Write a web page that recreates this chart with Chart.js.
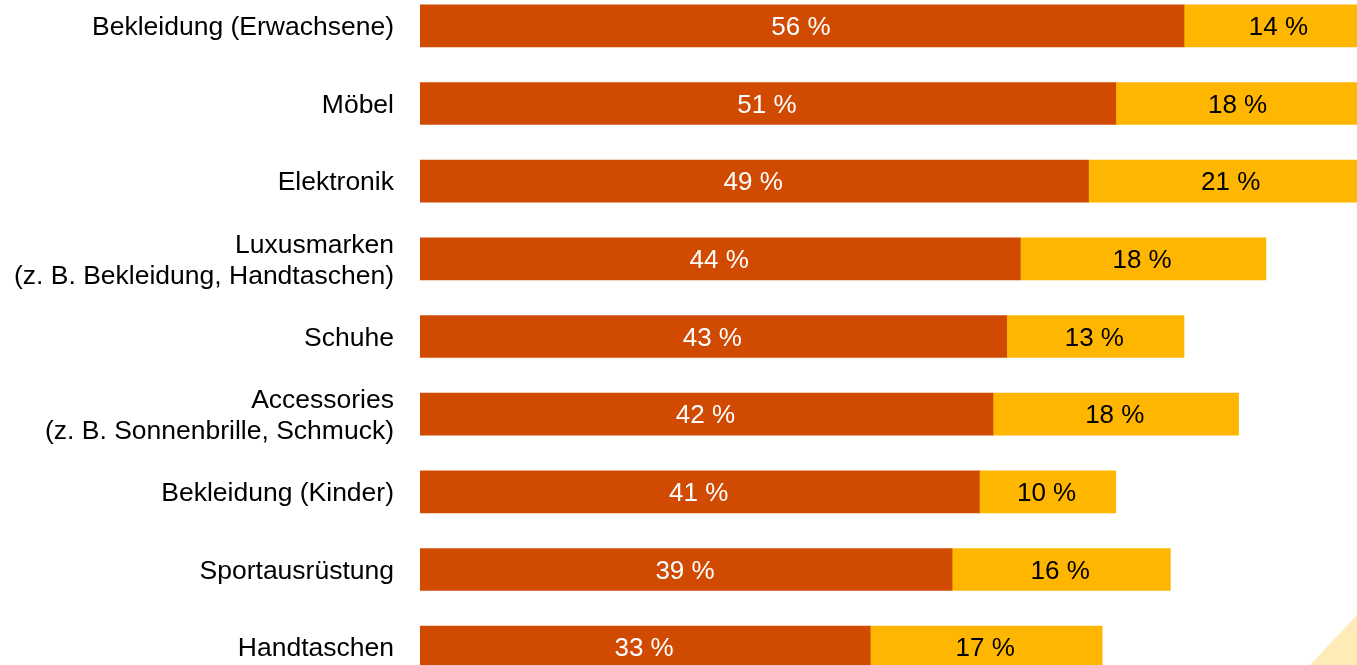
<!DOCTYPE html>
<html lang="de">
<head>
    <meta charset="UTF-8">
    <title>Produktkategorien</title>
    <script src="https://cdn.jsdelivr.net/npm/chart.js"></script>
    <style>
        html, body {
            margin: 0;
            padding: 0;
            width: 1357px;
            height: 665px;
            overflow: hidden;
            background-color: #ffffff;
        }
        #wrap {
            position: absolute;
            left: 0;
            top: -13px;
            width: 1380px;
            height: 699px;
        }
    </style>
</head>
<body>
    <div id="wrap"><canvas id="chart"></canvas></div>

    <script>
        const kategorien = [
            'Bekleidung (Erwachsene)',
            'Möbel',
            'Elektronik',
            ['Luxusmarken', '(z. B. Bekleidung, Handtaschen)'],
            'Schuhe',
            ['Accessories', '(z. B. Sonnenbrille, Schmuck)'],
            'Bekleidung (Kinder)',
            'Sportausrüstung',
            'Handtaschen'
        ];
        const werteA = [56, 51, 49, 44, 43, 42, 41, 39, 33];
        const werteB = [14, 18, 21, 18, 13, 18, 10, 16, 17];

        const schrift = '"Liberation Sans", Arial, sans-serif';

        // Werte als Text in die Balken schreiben
        const balkenText = {
            id: 'balkenText',
            afterDatasetsDraw(chart) {
                const ctx = chart.ctx;
                ctx.save();
                ctx.font = '26px ' + schrift;
                ctx.textAlign = 'center';
                ctx.textBaseline = 'middle';
                chart.data.datasets.forEach((ds, i) => {
                    chart.getDatasetMeta(i).data.forEach((bar, j) => {
                        const mitte = (bar.x + bar.base) / 2;
                        ctx.fillStyle = ds.textColor;
                        ctx.fillText(ds.data[j] + ' %', mitte - 1, bar.y + 2);
                    });
                });
                ctx.restore();
            }
        };

        // Deko-Dreieck unten rechts
        const ecke = {
            id: 'ecke',
            beforeDraw(chart) {
                const ctx = chart.ctx;
                ctx.save();
                ctx.fillStyle = '#ffebb8';
                ctx.beginPath();
                ctx.moveTo(1310, 678);
                ctx.lineTo(1357, 628);
                ctx.lineTo(1357, 678);
                ctx.closePath();
                ctx.fill();
                ctx.restore();
            }
        };

        new Chart(document.getElementById('chart'), {
            type: 'bar',
            data: {
                labels: kategorien,
                datasets: [{
                    data: werteA,
                    backgroundColor: '#d04a02',
                    textColor: '#ffffff',
                    barThickness: 42,
                    clip: 0
                }, {
                    data: werteB,
                    backgroundColor: '#ffb600',
                    textColor: '#000000',
                    barThickness: 42,
                    clip: 0
                }]
            },
            options: {
                indexAxis: 'y',
                responsive: true,
                maintainAspectRatio: false,
                animation: false,
                layout: { padding: { left: 0, right: 5, top: 0, bottom: 0 } },
                scales: {
                    x: {
                        stacked: true,
                        display: false,
                        min: 0,
                        max: 70
                    },
                    y: {
                        stacked: true,
                        grid: { display: false },
                        border: { display: false },
                        ticks: {
                            color: '#000000',
                            padding: 18,
                            labelOffset: 2,
                            font: { family: schrift, size: 26.5, lineHeight: 1.18 }
                        },
                        afterFit(scale) {
                            scale.width = 420;
                            scale.paddingTop = 0;
                            scale.paddingBottom = 0;
                        }
                    }
                },
                plugins: {
                    legend: { display: false },
                    tooltip: { enabled: false }
                }
            },
            plugins: [ecke, balkenText]
        });
    </script>
</body>
</html>
